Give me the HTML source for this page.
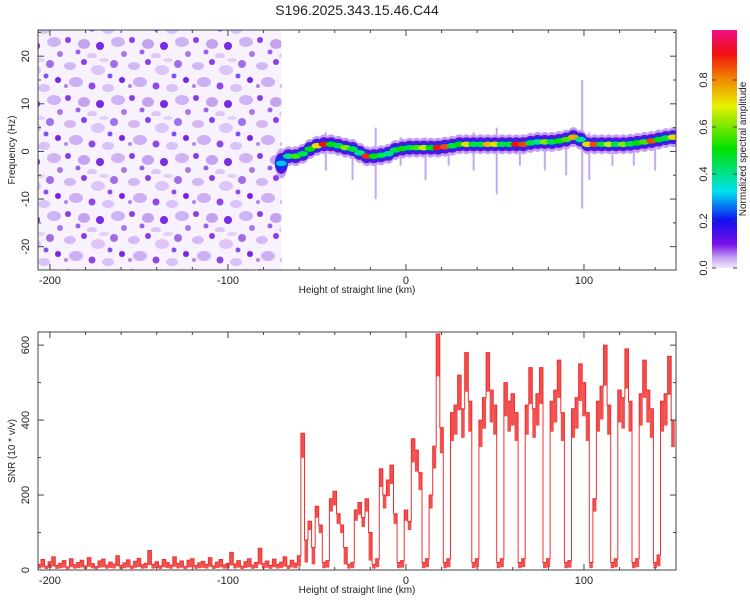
<!DOCTYPE html>
<html><head><meta charset="utf-8"><style>
body{margin:0;background:#fff;font-family:"Liberation Sans",sans-serif}
svg text{font-family:"Liberation Sans",sans-serif;fill:#222}
</style></head><body>
<svg id="chart" width="750" height="600" xmlns="http://www.w3.org/2000/svg">
<defs>
<pattern id="noisePat" width="64" height="58" patternUnits="userSpaceOnUse">
<rect width="64" height="58" fill="#f7f2fd"/>
<ellipse cx="6" cy="8" rx="6" ry="4" fill="#d4b8f5"/><circle cx="20" cy="4" r="3" fill="#8a3ee8"/>
<ellipse cx="34" cy="12" rx="7" ry="5" fill="#dcc6f7"/><circle cx="50" cy="6" r="4" fill="#a070ea"/>
<circle cx="58" cy="22" r="3" fill="#7a22e6"/><ellipse cx="12" cy="24" rx="7" ry="5" fill="#cdb0f3"/>
<circle cx="28" cy="28" r="3.5" fill="#8e48ea"/><ellipse cx="44" cy="30" rx="6" ry="4" fill="#d9c2f6"/>
<circle cx="4" cy="40" r="3" fill="#8840e6"/><ellipse cx="20" cy="44" rx="6" ry="5" fill="#c4a2ef"/>
<circle cx="36" cy="46" r="4" fill="#7a2ae4"/><ellipse cx="54" cy="42" rx="7" ry="5" fill="#cfb4f3"/>
<circle cx="60" cy="54" r="3" fill="#a679ea"/><ellipse cx="28" cy="56" rx="5" ry="3" fill="#dcc8f6"/>
<circle cx="46" cy="18" r="2.5" fill="#8b4cec"/><circle cx="14" cy="52" r="2.5" fill="#9a60ea"/>
<ellipse cx="40" cy="2" rx="5" ry="2" fill="#e2d0f8"/><circle cx="2" cy="28" r="2" fill="#b088ee"/>
</pattern>
<linearGradient id="cbGrad" x1="0" y1="1" x2="0" y2="0">
<stop offset="0" stop-color="#f0e6fb"/><stop offset="0.04" stop-color="#c9a8f2"/>
<stop offset="0.1" stop-color="#7a10e8"/><stop offset="0.2" stop-color="#1010f0"/>
<stop offset="0.32" stop-color="#00e0f0"/><stop offset="0.5" stop-color="#00e000"/>
<stop offset="0.68" stop-color="#e8f000"/><stop offset="0.8" stop-color="#f08000"/>
<stop offset="0.9" stop-color="#f01010"/><stop offset="1" stop-color="#f0108a"/>
</linearGradient>
<clipPath id="clipTop"><rect x="38" y="30" width="638" height="240"/></clipPath>
<clipPath id="clipBot"><rect x="38" y="332" width="638" height="238"/></clipPath>
</defs>
<text x="357" y="15" font-size="14" text-anchor="middle">S196.2025.343.15.46.C44</text>
<g id="topPanel"></g>
<g id="botPanel"></g>
<g id="cbPanel"></g>
</svg>
<script>
// Data
const snrStart = -206, snrStep = 2;
const snrValues = [15,28,10,22,35,12,18,25,8,30,14,20,26,11,33,17,9,24,29,13,21,16,38,12,19,27,10,23,31,14,18,52,15,22,11,28,20,13,35,17,24,9,26,30,12,19,23,15,33,11,21,28,14,18,47,16,25,10,22,30,13,20,58,17,24,12,29,15,21,35,11,26,18,38,
365,80,130,60,170,120,20,25,190,210,150,120,60,15,20,160,180,140,190,100,15,30,270,200,240,280,150,20,25,160,130,350,320,260,20,30,200,330,630,380,20,30,420,440,520,430,580,450,20,30,400,460,580,480,440,20,30,500,450,470,420,20,30,440,540,430,470,540,20,30,450,480,560,420,20,25,430,460,550,500,420,20,190,450,490,600,440,20,30,480,460,590,450,20,30,470,560,480,430,20,40,450,470,570,400];
const ridgeX =   [-70,-66,-62,-58,-54,-50,-46,-42,-38,-34,-30,-26,-22,-18,-14,-10,-6,-2,2,6,10,14,18,22,26,30,34,38,42,46,50,54,58,62,66,70,74,78,82,86,90,94,98,102,106,110,114,118,122,126,130,134,138,142,146,150];
const ridgeF =   [-2.5,-1,-1,-0.5,0.5,1.2,1.5,1.5,1.2,0.8,0.5,-0.3,-1,-1,-0.8,-0.5,0.3,0.6,0.8,0.8,0.8,0.8,0.8,1,1.2,1.5,1.5,1.5,1.5,1.5,1.5,1.5,1.5,1.5,1.5,1.8,2,2,2,2.2,2.5,3,2.5,1.5,1.5,1.5,1.5,1.5,1.5,1.6,1.8,2,2.2,2.5,2.8,3];
const ridgeAmp = [0.3,0.4,0.55,0.45,0.5,0.7,0.9,0.5,0.45,0.6,0.45,0.4,0.88,0.5,0.45,0.4,0.45,0.5,0.45,0.55,0.65,0.5,0.9,0.85,0.45,0.5,0.7,0.45,0.45,0.75,0.7,0.45,0.45,0.9,0.85,0.45,0.4,0.6,0.45,0.5,0.55,0.75,0.4,0.7,0.85,0.45,0.65,0.45,0.6,0.45,0.5,0.55,0.85,0.5,0.45,0.7];
const streakX =   [-45,-30,-17,-3,11,24,38,51,64,78,90,99,103,116,128,140];
const streakTop = [4,2,5,3,3,2,4,5,3,2,3,15,4,3,3,4];
const streakBot = [-4,-6,-10,-3,-6,-3,-4,-9,-3,-4,-5,-12,-6,-3,-3,-4];
const xTicks = [-200,-100,0,100];
const fTicks = [-20,-10,0,10,20];
const snrTicks = [0,200,400,600];
const cbTicks = [0.0,0.2,0.4,0.6,0.8];

const NS='http://www.w3.org/2000/svg';
function el(tag,attrs,parent){const e=document.createElementNS(NS,tag);for(const k in attrs)e.setAttribute(k,attrs[k]);parent.appendChild(e);return e;}
const X0=38,X1=676,XMIN=-206.7,XMAX=151.7;
const xs=v=>X0+(v-XMIN)/(XMAX-XMIN)*(X1-X0);
const TY0=30,TY1=270,FMIN=-24.9,FMAX=25.5;
const fy=v=>TY1-(v-FMIN)/(FMAX-FMIN)*(TY1-TY0);
const BY0=332,BY1=570,SMAX=635;
const sy=v=>BY1-v/SMAX*(BY1-BY0);
function cmap(a){const st=[[0,[240,230,251]],[0.1,[122,16,232]],[0.2,[16,16,240]],[0.32,[0,224,240]],[0.5,[0,224,0]],[0.68,[232,240,0]],[0.8,[240,128,0]],[0.9,[240,16,16]],[1,[240,16,138]]];
 for(let i=1;i<st.length;i++){if(a<=st[i][0]){const t=(a-st[i-1][0])/(st[i][0]-st[i-1][0]);const c=st[i-1][1].map((v,j)=>Math.round(v+(st[i][1][j]-v)*t));return 'rgb('+c.join(',')+')';}}return 'rgb(240,16,138)';}

// ---- Top heatmap
const topG=document.getElementById('topPanel');
const tg=el('g',{'clip-path':'url(#clipTop)'},topG);
const noise=el('rect',{x:X0,y:TY0,width:xs(-70)-X0,height:TY1-TY0,fill:'url(#noisePat)'},tg);


streakX.forEach((x,i)=>{const s=el('rect',{x:xs(x)-1,y:fy(streakTop[i]),width:2,height:fy(streakBot[i])-fy(streakTop[i]),fill:'#9860e8',opacity:0.55},tg);
 
 });
[[10,'#c4a0f2'],[7,'#5a10e4'],[4.5,'#1030f0']].forEach(([ry,c])=>{
 ridgeX.forEach((x,i)=>{const e=el('ellipse',{cx:xs(x),cy:fy(ridgeF[i]),rx:6.5,ry:ry*(i==0?1.5:1),fill:c},tg);
  
  });});
ridgeX.forEach((x,i)=>{const e=el('ellipse',{cx:xs(x),cy:fy(ridgeF[i]),rx:5.5,ry:2.8,fill:cmap(ridgeAmp[i])},tg);
 
 });
function frame(y0,y1,name){const r=el('rect',{x:X0,y:y0,width:X1-X0,height:y1-y0,fill:'none',stroke:'#444','stroke-width':1},document.getElementById('chart'));
 
 }
frame(TY0,TY1,'spectrogram-frame');
function xAxis(y0,y1,labY,par){for(let v=-200;v<=140;v+=20){const x=xs(v),L=v%100==0?6:3;
  el('line',{x1:x,x2:x,y1:y1,y2:y1-L,stroke:'#444'},par);el('line',{x1:x,x2:x,y1:y0,y2:y0+L,stroke:'#444'},par);}
 xTicks.forEach(v=>{const t=el('text',{x:xs(v),y:labY,'font-size':11,'text-anchor':'middle'},par);t.textContent=v;
  
  });}
xAxis(TY0,TY1,284,topG);
for(let v=-20;v<=25;v+=5){const y=fy(v),L=v%10==0?6:3;el('line',{x1:X0,x2:X0+L,y1:y,y2:y,stroke:'#444'},topG);el('line',{x1:X1,x2:X1-L,y1:y,y2:y,stroke:'#444'},topG);}
fTicks.forEach(v=>{const t=el('text',{x:0,y:0,'font-size':11,'text-anchor':'middle',transform:`translate(29,${fy(v)}) rotate(-90)`},topG);t.textContent=v;
 
 });
let t=el('text',{x:357,y:293,'font-size':10,'text-anchor':'middle'},topG);t.textContent='Height of straight line (km)';


t=el('text',{x:0,y:0,'font-size':10,'text-anchor':'middle',transform:'translate(15,150) rotate(-90)'},topG);t.textContent='Frequency (Hz)';



// ---- Colorbar
const cbG=document.getElementById('cbPanel');
const cbr=el('rect',{x:712,y:30,width:25,height:238,fill:'url(#cbGrad)'},cbG);


cbTicks.forEach(v=>{const y=268-v*235;el('line',{x1:712,x2:716,y1:y,y2:y,stroke:'#444'},cbG);el('line',{x1:737,x2:733,y1:y,y2:y,stroke:'#444'},cbG);
 const l=el('text',{x:0,y:0,'font-size':11,'text-anchor':'middle',transform:`translate(707,${y}) rotate(-90)`},cbG);l.textContent=v.toFixed(1);
 
 });
t=el('text',{x:0,y:0,'font-size':10,'text-anchor':'middle',transform:'translate(746,149) rotate(-90)'},cbG);t.textContent='Normalized spectral amplitude';



// ---- Bottom SNR
const botG=document.getElementById('botPanel');
const bg=el('g',{'clip-path':'url(#clipBot)'},botG);
let d='';
snrValues.forEach((v,i)=>{const x0=xs(snrStart+i*snrStep-snrStep/2),x1=xs(snrStart+i*snrStep+snrStep/2),y=sy(v);
 d+=(i==0?'M':'L')+x0.toFixed(1)+','+y.toFixed(1)+'L'+x1.toFixed(1)+','+y.toFixed(1);});
const line=el('path',{d:d,fill:'none',stroke:'#f03030','stroke-width':1},bg);


snrValues.forEach((v,i)=>{const x0=xs(snrStart+i*snrStep-snrStep/2),w=xs(snrStep)-xs(0);
 const lo=v>100?v*0.82:v*0.25;
 const b=el('rect',{x:x0,y:sy(v),width:w,height:sy(lo)-sy(v),fill:'#f03030',opacity:0.85},bg);
 
 });
frame(BY0,BY1,'snr-frame');
xAxis(BY0,BY1,584,botG);
for(let v=0;v<=600;v+=100){const y=sy(v),L=v%200==0?6:3;el('line',{x1:X0,x2:X0+L,y1:y,y2:y,stroke:'#444'},botG);el('line',{x1:X1,x2:X1-L,y1:y,y2:y,stroke:'#444'},botG);}
snrTicks.forEach(v=>{const l=el('text',{x:0,y:0,'font-size':11,'text-anchor':'middle',transform:`translate(29,${sy(v)}) rotate(-90)`},botG);l.textContent=v;
 
 });
t=el('text',{x:357,y:593,'font-size':10,'text-anchor':'middle'},botG);t.textContent='Height of straight line (km)';


t=el('text',{x:0,y:0,'font-size':10,'text-anchor':'middle',transform:'translate(15,451) rotate(-90)'},botG);t.textContent='SNR (10 * v/v)';


</script>
</body></html>
